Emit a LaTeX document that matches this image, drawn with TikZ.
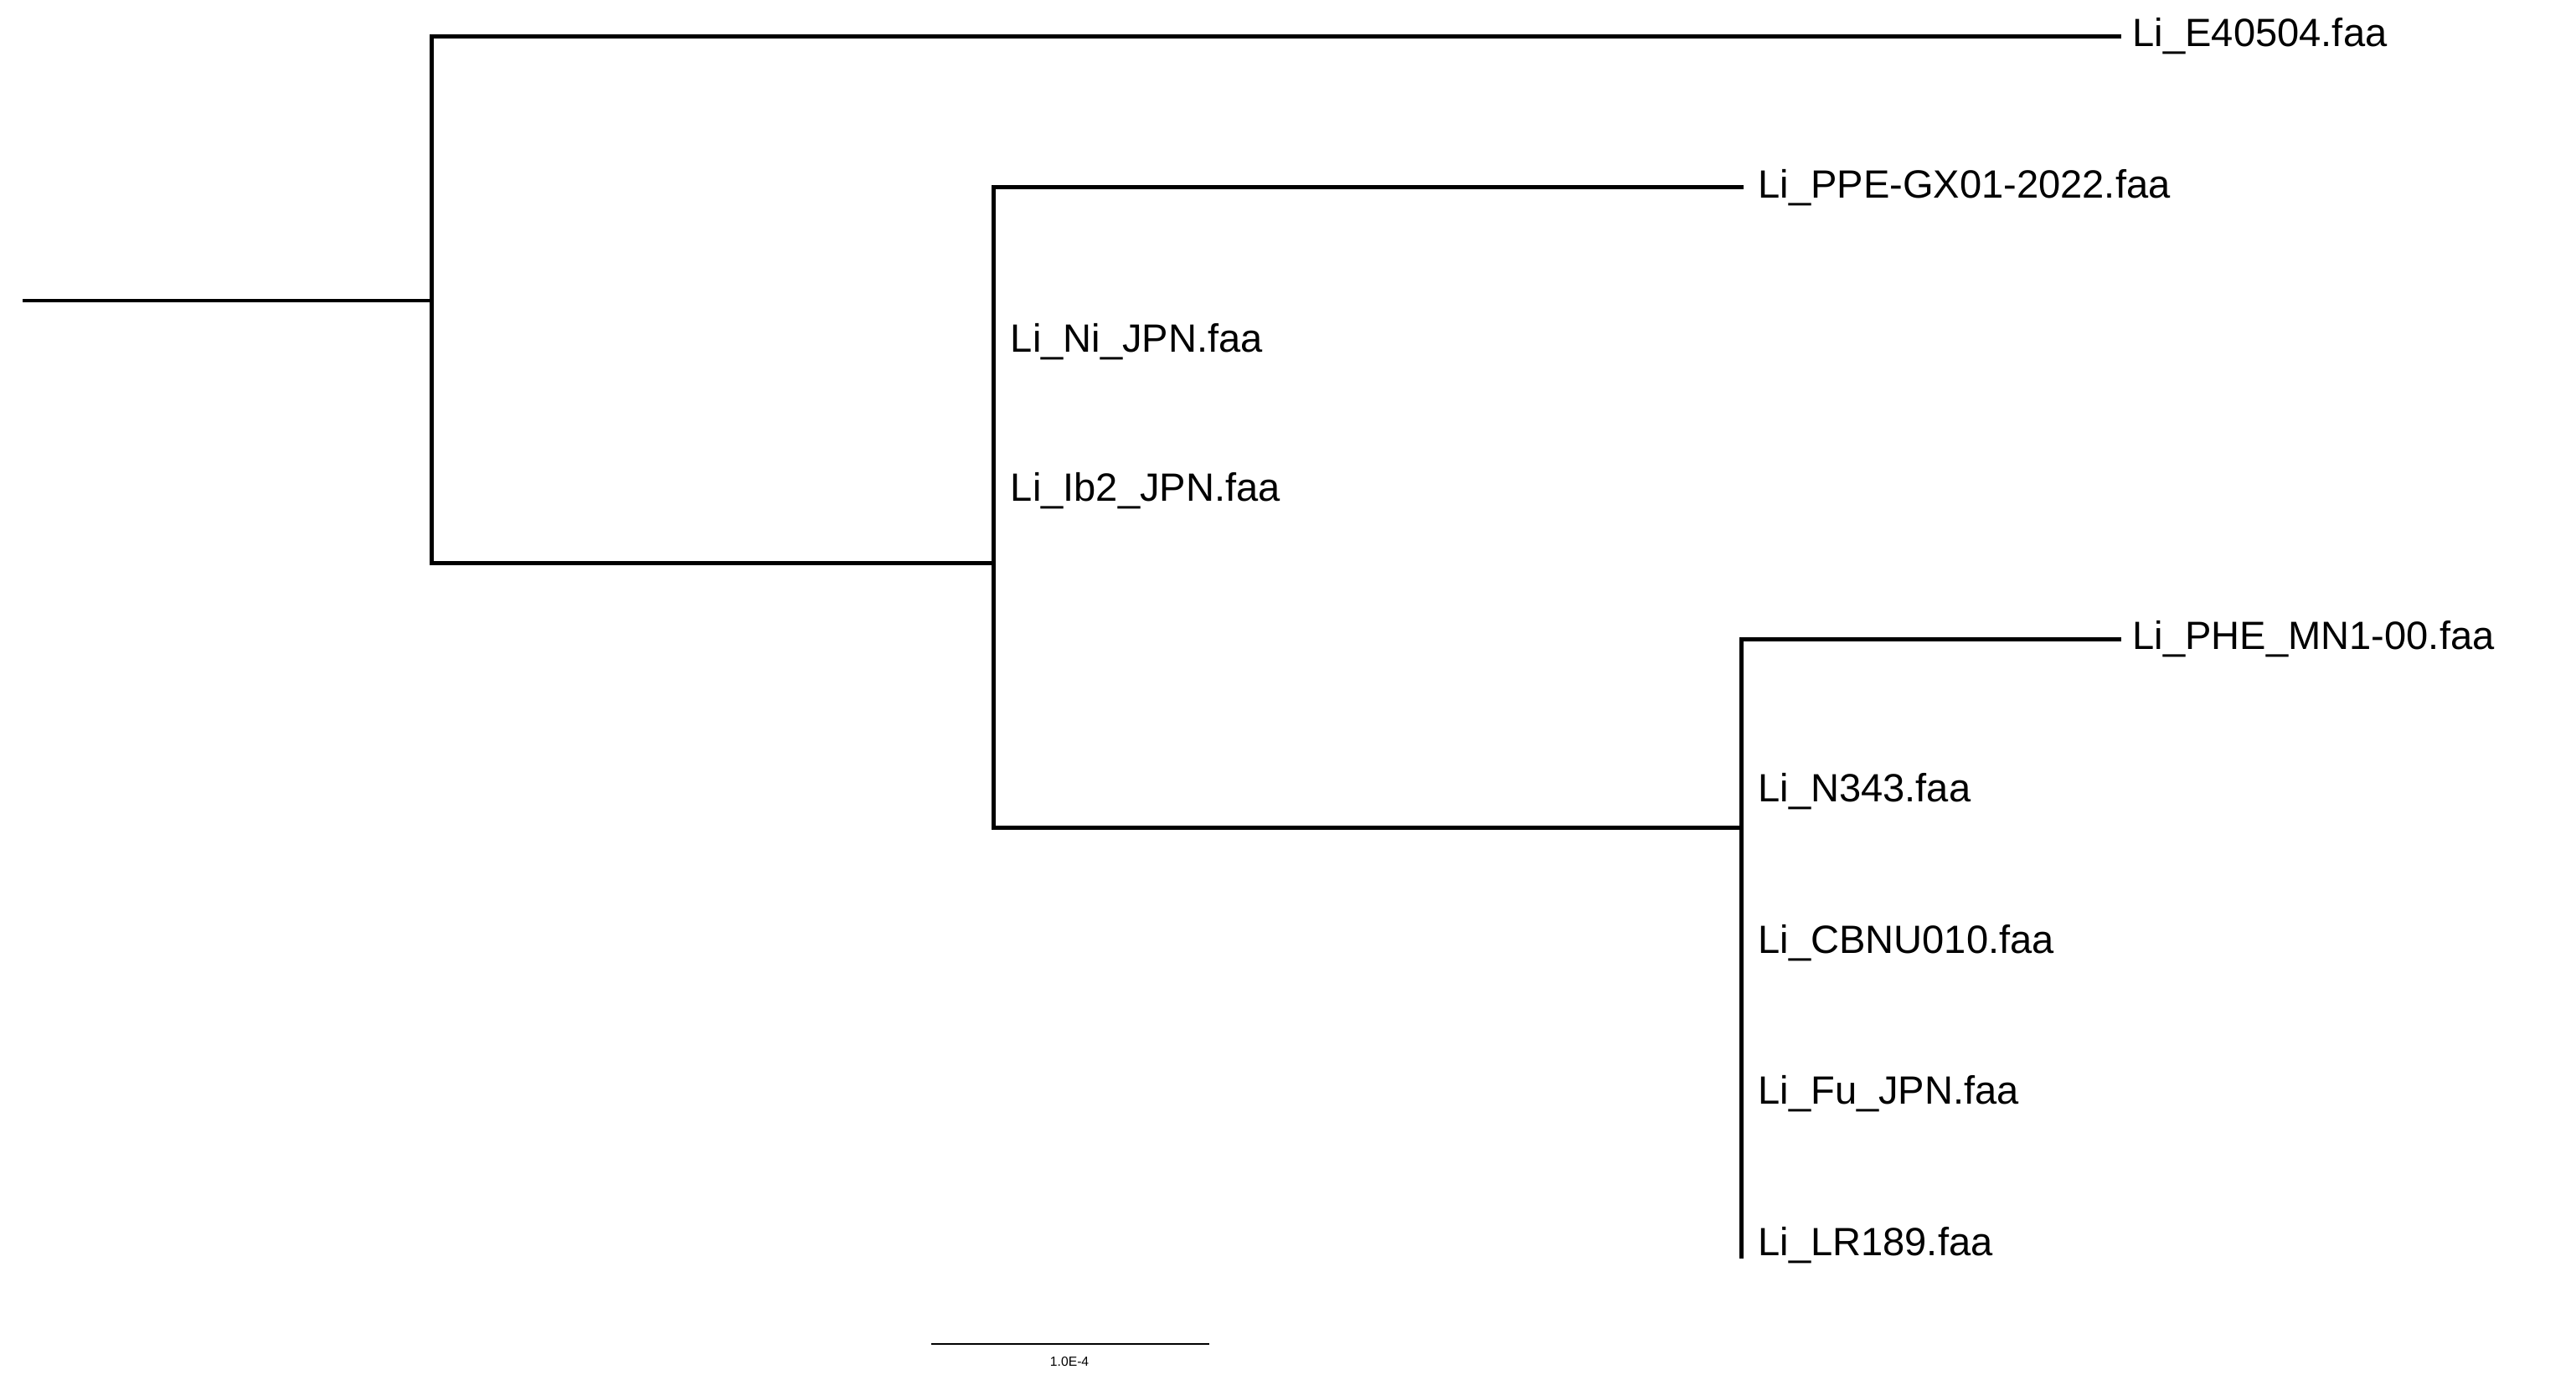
\documentclass[tikz,border=0pt]{standalone}
\usepackage{fontspec}
\setmainfont{Liberation Sans}
\begin{document}
\begin{tikzpicture}[x=1pt,y=-1pt,br/.style={line width=2.5pt,line cap=rect},
 lab/.style={anchor=west,inner sep=0pt,font=\fontsize{24}{28}\selectfont}]
\useasboundingbox (0,0) rectangle (1568,843);
\coordinate (r0) at (15,183);
\coordinate (n1) at (263,183);
\coordinate (n1t) at (263,22);
\coordinate (n1b) at (263,343);
\coordinate (n2) at (605,343);
\coordinate (n2t) at (605,114);
\coordinate (n2b) at (605,504);
\coordinate (n3) at (1060,504);
\coordinate (n3t) at (1060,389);
\coordinate (n3b) at (1060,765);
\node[lab] (t1) at (1298,22) {Li\_E40504.faa};
\node[lab] (t2) at (1070,114) {Li\_PPE-GX01-2022.faa};
\node[lab] (t3) at (615,208) {Li\_Ni\_JPN.faa};
\node[lab] (t4) at (615,299) {Li\_Ib2\_JPN.faa};
\node[lab] (t5) at (1298,389) {Li\_PHE\_MN1-00.faa};
\node[lab] (t6) at (1070,482) {Li\_N343.faa};
\node[lab] (t7) at (1070,574) {Li\_CBNU010.faa};
\node[lab] (t8) at (1070,666) {Li\_Fu\_JPN.faa};
\node[lab] (t9) at (1070,758) {Li\_LR189.faa};
\draw[br] (r0) -- (n1);
\draw[br] (n1t) -- (n1b);
\draw[br] (n1t) -- (1290,22);
\draw[br] (n1b) -- (n2);
\draw[br] (n2t) -- (n2b);
\draw[br] (n2t) -- (1060,114);
\draw[br] (n2b) -- (n3);
\draw[br] (n3t) -- (n3b);
\draw[br] (n3t) -- (1290,389);
\coordinate (s1) at (567,818);
\coordinate (s2) at (736,818);
\draw[line width=1.2pt] (s1) -- (s2);
\node[font=\fontsize{8}{9}\selectfont,inner sep=0pt] (sl) at (651,829) {1.0E-4};
\end{tikzpicture}
\end{document}
